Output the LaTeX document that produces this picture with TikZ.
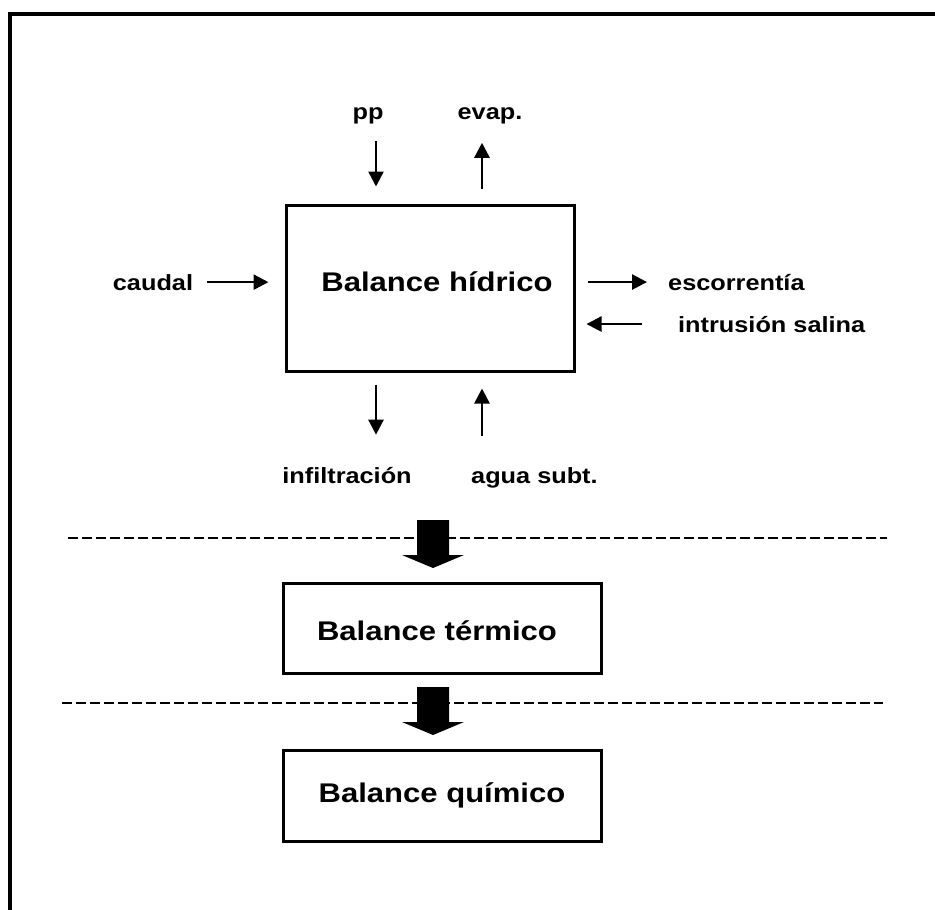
\documentclass[tikz,border=0pt]{standalone}
\usepackage{fontspec}
\setmainfont{Liberation Sans}[FakeStretch=1.15]
\usetikzlibrary{arrows.meta, positioning}

\begin{document}
\begin{tikzpicture}[x=1pt, y=-1pt,
  box/.style={draw, line width=3pt, inner sep=0pt},
  title/.style={font=\fontsize{27}{30}\selectfont\bfseries, inner sep=0pt, anchor=base},
  lbl/.style={font=\fontsize{22}{24}\selectfont\bfseries, inner sep=0pt, anchor=base},
  flow/.style={line width=2.5pt, -{Triangle[width=15pt, length=15pt]}},
  sep/.style={line width=2.5pt, dash pattern=on 10pt off 4pt}
]
  \useasboundingbox (0,0) rectangle (935,910);

  % Frame
  \draw[line width=4pt] (10,910) -- (10,14) -- (935,14);

  % Boxes
  \node[box, minimum width=288pt, minimum height=166pt] (hidrico) at (430,288) {};
  \node[box, minimum width=318pt, minimum height=90pt] (termico) at (442,628) {};
  \node[box, minimum width=318pt, minimum height=91pt] (quimico) at (442,795.5) {};
  \node[title] (thidrico) at (437,291) {Balance hídrico};
  \node[title] (ttermico) at (437,640) {Balance térmico};
  \node[title] (tquimico) at (442,802) {Balance químico};

  % Water flows
  \node[lbl] (pp) at (368,119) {pp};
  \node[lbl] (evap) at (490,119) {evap.};
  \node[lbl] (caudal) at (153,290) {caudal};
  \node[lbl, anchor=base west] (escorr) at (668,290) {escorrentía};
  \node[lbl, anchor=base west] (intr) at (678,332) {intrusión salina};
  \node[lbl] (infil) at (347,483) {infiltración};
  \node[lbl, anchor=base west] (agua) at (471,483) {agua subt.};

  \draw[flow, shorten <=17pt, shorten >=17pt] ([xshift=-54pt]hidrico.north |- pp.south) -- ([xshift=-54pt]hidrico.north);
  \draw[flow, shorten <=15pt, shorten >=19pt] ([xshift=52pt]hidrico.north) -- ([xshift=52pt]hidrico.north |- evap.south);
  \draw[flow, shorten <=14pt, shorten >=16pt] (caudal.east) -- (caudal.east -| hidrico.west);
  \draw[flow, shorten <=12pt, shorten >=21pt] (hidrico.east |- escorr.west) -- (escorr.west);
  \draw[flow, shorten <=36pt, shorten >=11pt] (intr.west) -- (intr.west -| hidrico.east);
  \draw[flow, shorten <=12pt, shorten >=32pt] ([xshift=-54pt]hidrico.south) -- ([xshift=-54pt]hidrico.south |- infil.north);
  \draw[flow, shorten <=31pt, shorten >=16pt] ([xshift=52pt]hidrico.south |- agua.north) -- ([xshift=52pt]hidrico.south);

  % Separators
  \draw[sep] (68,538) -- (887,538);
  \draw[sep] (62,703) -- (883,703);

  % Block arrows
  \foreach \ytop in {520, 687}
    \fill (433,\ytop) ++(-16,0) -- ++(32,0) -- ++(0,35) -- ++(15,0)
      -- ++(-31,13) -- ++(-31,-13) -- ++(15,0) -- cycle;
\end{tikzpicture}
\end{document}
